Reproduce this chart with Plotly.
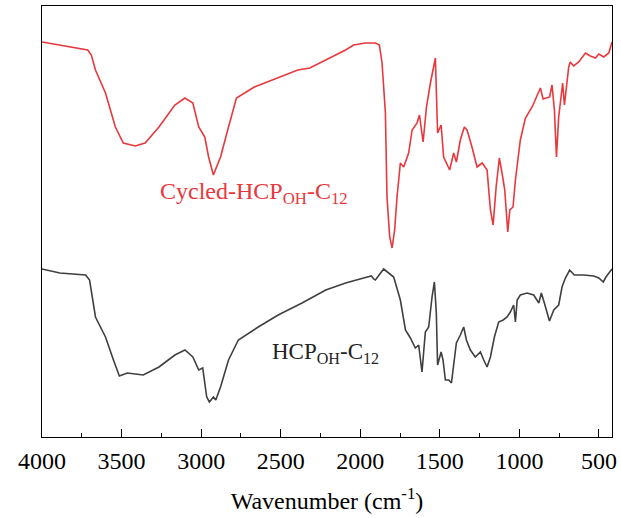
import plotly.graph_objects as go

# Wavenumber (cm-1) and transmittance (a.u., offset for display)
wn_cycled = [4000, 3900, 3800, 3713, 3690, 3664, 3601, 3539, 3489, 3414, 3352, 3265, 3165, 3102, 3052,
             3015, 2977, 2953, 2923, 2903, 2878, 2828, 2778, 2666, 2516, 2392, 2317, 2192, 2092, 2042,
             1968, 1905, 1880, 1863, 1842, 1832, 1815, 1800, 1784, 1769, 1748, 1727, 1696, 1674, 1643,
             1628, 1605, 1584, 1559, 1528, 1514, 1492, 1476, 1438, 1413, 1396, 1371, 1346, 1329, 1298,
             1266, 1234, 1203, 1182, 1165, 1146, 1126, 1109, 1092, 1073, 1060, 1040, 1025, 994, 962,
             920, 868, 851, 810, 795, 780, 767, 753, 728, 717, 690, 680, 659, 627, 585,
             554, 522, 501, 470, 438, 418]
t_cycled = [395, 392, 389, 387, 382, 367, 344, 310, 294, 291, 294, 310, 332, 339, 334,
            310, 300, 280, 262, 270, 280, 310, 339, 350, 359, 367, 369, 379, 387, 392,
            394, 394, 392, 374, 324, 240, 200, 189, 207, 240, 274, 270, 284, 307, 314,
            322, 295, 330, 354, 379, 304, 312, 280, 267, 284, 275, 297, 310, 307, 290,
            270, 274, 267, 227, 212, 250, 279, 264, 247, 205, 227, 230, 257, 297, 319,
            330, 349, 338, 340, 352, 327, 280, 320, 354, 332, 370, 375, 371, 375, 384,
            381, 379, 383, 380, 384, 395]

wn_fresh = [4000, 3888, 3726, 3701, 3664, 3601, 3551, 3514, 3464, 3364, 3265, 3165, 3102, 3052, 3015,
            2990, 2965, 2948, 2923, 2908, 2878, 2828, 2766, 2641, 2516, 2366, 2217, 2092, 1979, 1930,
            1916, 1905, 1853, 1790, 1748, 1716, 1685, 1654, 1633, 1612, 1591, 1570, 1549, 1534, 1522,
            1514, 1492, 1480, 1465, 1444, 1427, 1413, 1396, 1371, 1350, 1333, 1308, 1277, 1245, 1224,
            1203, 1182, 1157, 1130, 1102, 1077, 1057, 1036, 1025, 1014, 994, 952, 910, 878, 862,
            843, 811, 784, 753, 732, 711, 684, 655, 596, 533, 501, 473, 456, 418]
t_fresh = [168, 164, 162, 157, 120, 100, 77, 61, 64, 62, 70, 82, 87, 80, 67,
           69, 40, 35, 40, 37, 50, 77, 97, 110, 122, 134, 147, 154, 159, 161,
           158, 157, 168, 160, 137, 107, 99, 89, 92, 65, 105, 110, 140, 155, 124,
           72, 85, 77, 57, 57, 54, 70, 94, 102, 110, 97, 87, 80, 85, 77,
           70, 80, 100, 115, 117, 120, 125, 132, 115, 137, 142, 144, 142, 134, 144,
           134, 116, 127, 132, 150, 159, 167, 162, 162, 161, 159, 155, 160, 168]

x_ticks = [4000, 3500, 3000, 2500, 2000, 1500, 1000, 500]
x_range = [4000, 418]
y_range = [0, 431]

fig = go.Figure()
fig.add_trace(go.Scatter(x=wn_cycled, y=t_cycled, mode="lines",
                         line=dict(color="#E8383D", width=1.6), showlegend=False))
fig.add_trace(go.Scatter(x=wn_fresh, y=t_fresh, mode="lines",
                         line=dict(color="#404040", width=1.6), showlegend=False))

fig.add_annotation(x=3269, y=244, xref="x", yref="y", showarrow=False, xanchor="left",
                   text="Cycled-HCP<sub>OH</sub>-C<sub>12</sub>",
                   font=dict(family="Liberation Serif", size=24, color="#E8383D"))
fig.add_annotation(x=2565, y=84, xref="x", yref="y", showarrow=False, xanchor="left",
                   text="HCP<sub>OH</sub>-C<sub>12</sub>",
                   font=dict(family="Liberation Serif", size=23, color="#222222"))

fig.update_layout(
    width=621, height=518,
    margin=dict(l=42, r=9, t=6, b=81, autoexpand=False),
    paper_bgcolor="white", plot_bgcolor="white",
    font=dict(family="Liberation Serif", size=24, color="black"),
    xaxis=dict(range=x_range, tickmode="array", tickvals=x_ticks, automargin=False,
               ticks="inside", ticklen=8, tickwidth=1, tickcolor="black",
               minor=dict(dtick=250, ticks="inside", ticklen=4, tickcolor="black", tickwidth=1),
               showline=True, linecolor="black", linewidth=1.3, mirror=True,
               showgrid=False, zeroline=False, ticklabelstandoff=2,
               title=dict(text="Wavenumber (cm<sup>-1</sup>)", standoff=19,
                          font=dict(family="Liberation Serif", size=24))),
    yaxis=dict(range=y_range, showticklabels=False, ticks="", automargin=False,
               showline=True, linecolor="black", linewidth=1.3, mirror=True,
               showgrid=False, zeroline=False),
)

fig.write_html("out.html", config={"displayModeBar": False},
               post_script="document.body.style.margin='0';")
